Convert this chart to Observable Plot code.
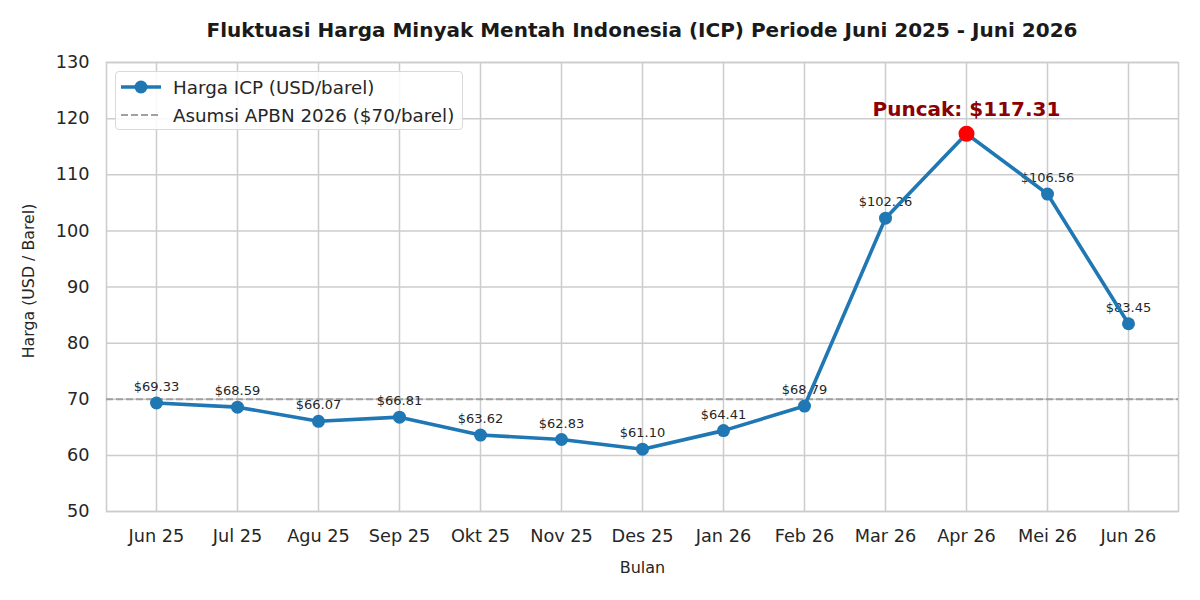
<!DOCTYPE html>
<html>
<head>
<meta charset="utf-8">
<script src="https://cdn.jsdelivr.net/npm/d3@7"></script>
<script src="https://cdn.jsdelivr.net/npm/@observablehq/plot@0.6"></script>
<style>
  body { margin: 0; background: #fff; font-family: "DejaVu Sans", sans-serif; }
  #wrap { position: relative; width: 1200px; height: 600px; background: #fff; }
  #title { height: 48px; box-sizing: border-box; padding-top: 18px; padding-left: 84px; text-align: center;
           font-weight: bold; font-size: 20px; line-height: 24px; color: #1a1a1a; white-space: nowrap; }
  #legend { position: absolute; left: 115px; top: 71px; width: 348px; height: 59px; box-sizing: border-box;
            border: 1px solid #d9d9d9; border-radius: 4px; background: rgba(255,255,255,0.85);
            font-size: 18.3px; color: #262626; }
  .row { position: absolute; left: 0; height: 24px; display: flex; align-items: center; }
  .row svg { margin-left: 5px; }
  .row span { margin-left: 12px; white-space: nowrap; }
</style>
</head>
<body>
<div id="wrap">
  <div id="title">Fluktuasi Harga Minyak Mentah Indonesia (ICP) Periode Juni 2025 - Juni 2026</div>
  <div id="chart"></div>
  <div id="legend">
    <div class="row" style="top:3px"><svg width="40" height="16"><line x1="0" y1="8" x2="40" y2="8" stroke="#1f77b4" stroke-width="3.5"/><circle cx="20" cy="8" r="6.5" fill="#1f77b4"/></svg><span>Harga ICP (USD/barel)</span></div>
    <div class="row" style="top:31px"><svg width="40" height="16"><line x1="0" y1="8" x2="40" y2="8" stroke="#a0a0a0" stroke-width="1.8" stroke-dasharray="7,3"/></svg><span>Asumsi APBN 2026 ($70/barel)</span></div>
  </div>
</div>
<script>
const months = ["Jun 25","Jul 25","Agu 25","Sep 25","Okt 25","Nov 25","Des 25","Jan 26","Feb 26","Mar 26","Apr 26","Mei 26","Jun 26"];
const prices = [69.33, 68.59, 66.07, 66.81, 63.62, 62.83, 61.10, 64.41, 68.79, 102.26, 117.31, 106.56, 83.45];
const yTicks = [50, 60, 70, 80, 90, 100, 110, 120, 130];
const apbn = 70;

const data = months.map((m, i) => ({m, v: prices[i]}));
const maxV = d3.max(prices);
const peak = data.filter(d => d.v === maxV);
const others = data.filter(d => d.v !== maxV);

const chart = Plot.plot({
  width: 1200, height: 552,
  marginTop: 14, marginBottom: 89, marginLeft: 106, marginRight: 22,
  style: { fontFamily: "DejaVu Sans", fontSize: "17.7px", color: "#262626", background: "white", overflow: "visible" },
  x: { type: "point", domain: months, padding: 0.6 },
  y: { domain: [50, 130] },
  marks: [
    Plot.gridX(months, { stroke: "#cccccc", strokeOpacity: 1, strokeWidth: 1.5 }),
    Plot.gridY(yTicks, { stroke: "#cccccc", strokeOpacity: 1, strokeWidth: 1.5 }),
    Plot.frame({ stroke: "#cccccc", strokeWidth: 1.5 }),
    Plot.axisX(months, { tickSize: 0, tickPadding: 18, fontSize: 17.7, label: null }),
    Plot.axisY(yTicks, { tickSize: 0, tickPadding: 17, fontSize: 17.7, label: null }),
    Plot.text(["Bulan"], { frameAnchor: "bottom", dy: 61, fontSize: 16 }),
    Plot.text(["Harga (USD / Barel)"], { frameAnchor: "left", textAnchor: "middle", dx: -78, dy: -6, rotate: -90, fontSize: 15.8 }),
    Plot.ruleY([apbn], { stroke: "#a0a0a0", strokeWidth: 1.8, strokeDasharray: "7,3" }),
    Plot.text(others, { x: "m", y: "v", text: d => "$" + d.v.toFixed(2), dy: -16, fontSize: 13, fill: "#262626" }),
    Plot.line(data, { x: "m", y: "v", stroke: "#1f77b4", strokeWidth: 3.6 }),
    Plot.dot(others, { x: "m", y: "v", r: 6.5, fill: "#1f77b4" }),
    Plot.dot(peak, { x: "m", y: "v", r: 8, fill: "red" }),
    Plot.text(peak, { x: "m", y: "v", text: d => "Puncak: $" + d.v.toFixed(2), dy: -24, fontSize: 20, fontWeight: "bold", fill: "#8b0000" })
  ]
});
document.getElementById("chart").appendChild(chart);
</script>
</body>
</html>
